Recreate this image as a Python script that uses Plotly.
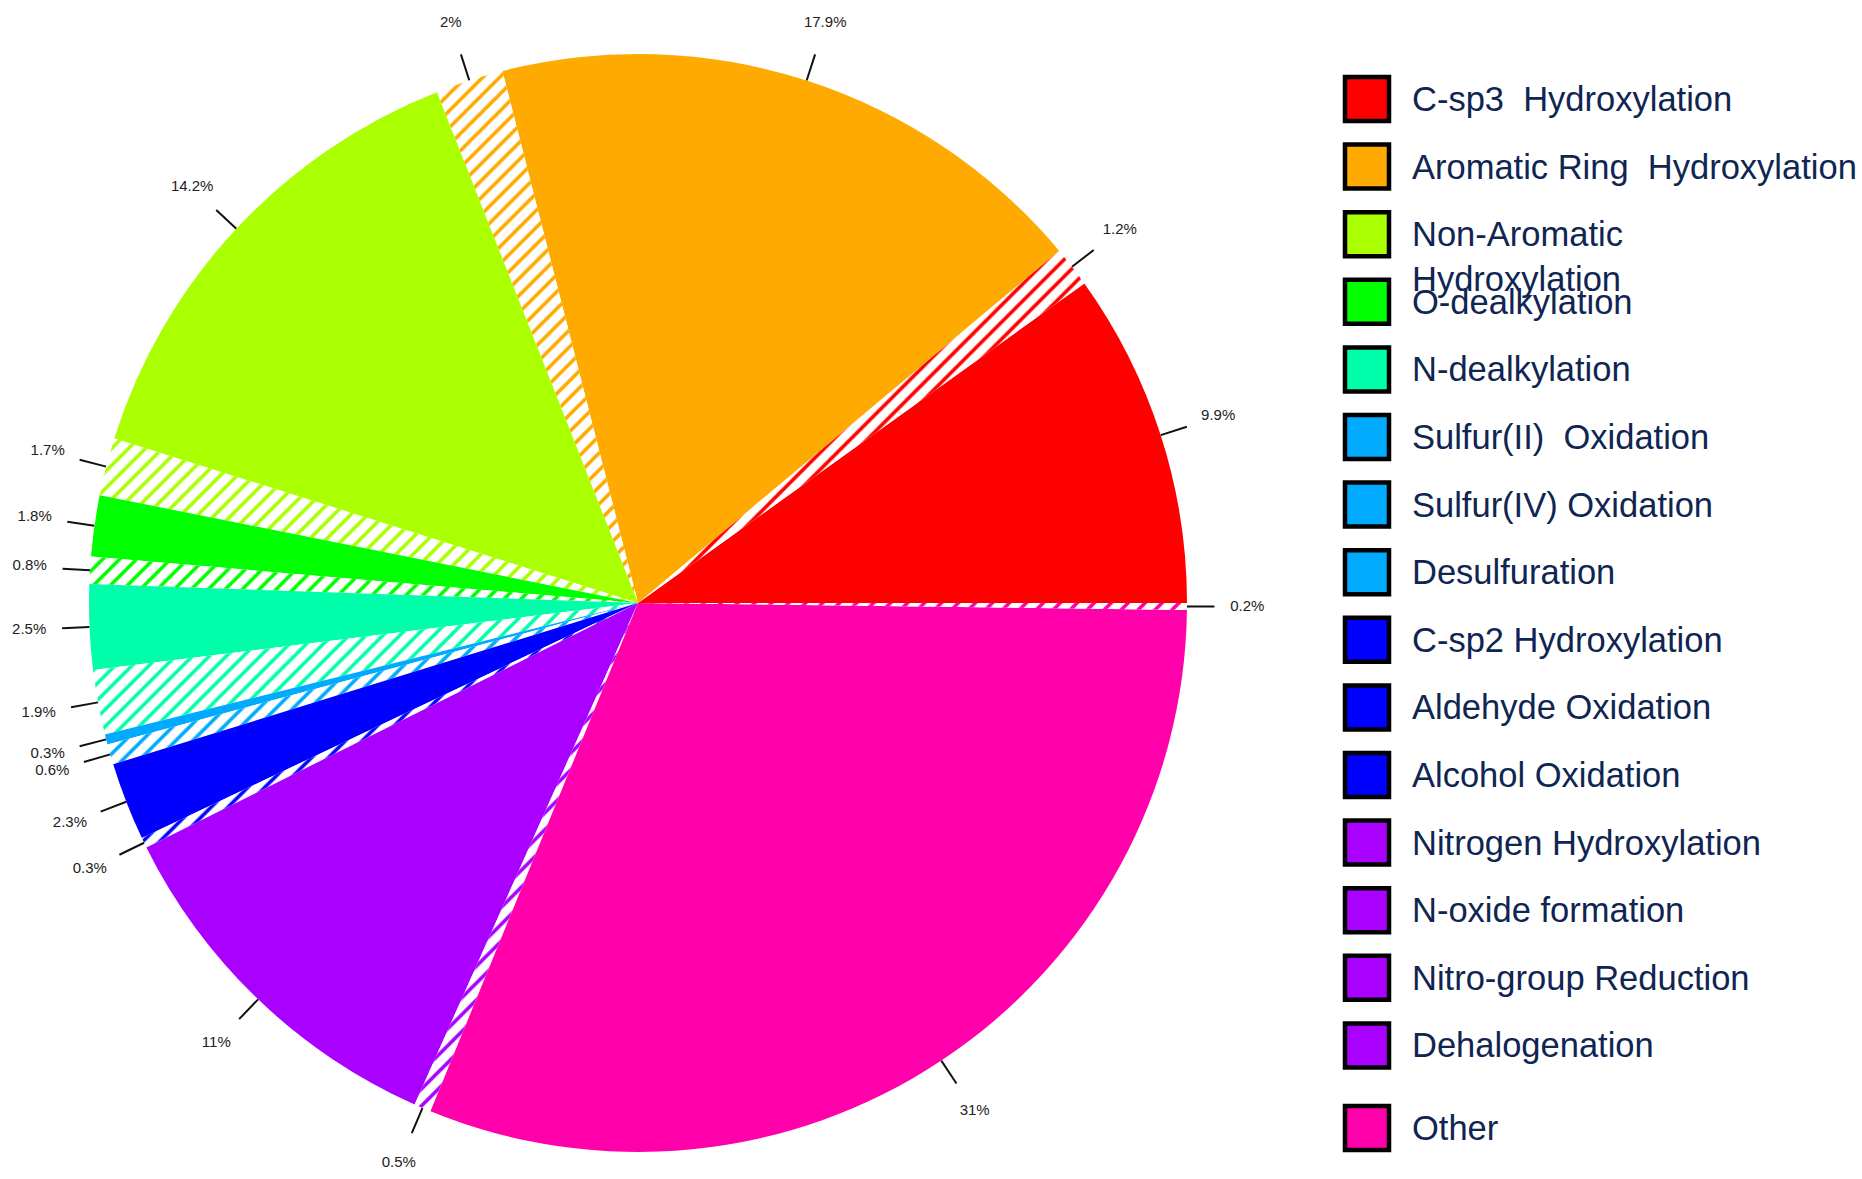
import math
import plotly.graph_objects as go

# ---------------- data ----------------
# pie slices, counter-clockwise starting at 3 o'clock
slice_names = [
    "C-sp3 Hydroxylation", "C-sp3 Hydroxylation (hatched)",
    "Aromatic Ring Hydroxylation", "Aromatic Ring Hydroxylation (hatched)",
    "Non-Aromatic Hydroxylation", "Non-Aromatic Hydroxylation (hatched)",
    "O-dealkylation", "O-dealkylation (hatched)",
    "N-dealkylation", "N-dealkylation (hatched)",
    "Sulfur Oxidation / Desulfuration", "Sulfur Oxidation / Desulfuration (hatched)",
    "C-sp2 / Aldehyde / Alcohol Oxidation", "C-sp2 / Aldehyde / Alcohol Oxidation (hatched)",
    "Nitrogen Hydroxylation / N-oxide / Nitro / Dehalogenation",
    "Nitrogen Hydroxylation / N-oxide / Nitro / Dehalogenation (hatched)",
    "Other", "Other (hatched)",
]
slice_values = [9.9, 1.2, 17.9, 2, 14.2, 1.7, 1.8, 0.8, 2.5, 1.9,
                0.3, 0.6, 2.3, 0.3, 11, 0.5, 31, 0.2]
slice_text = ["9.9%", "1.2%", "17.9%", "2%", "14.2%", "1.7%", "1.8%", "0.8%",
              "2.5%", "1.9%", "0.3%", "0.6%", "2.3%", "0.3%", "11%", "0.5%",
              "31%", "0.2%"]
slice_hatched = [False, True] * 9

group_colors = ["#ff0000", "#ffaa00", "#aaff00", "#00ff00", "#00ffaa",
                "#00aaff", "#0000ff", "#aa00ff", "#ff00aa"]
slice_colors = [c for c in group_colors for _ in range(2)]

legend_labels = [
    "C-sp3\u00a0 Hydroxylation",
    "Aromatic Ring\u00a0 Hydroxylation",
    "Non-Aromatic<br>Hydroxylation",
    "O-dealkylation",
    "N-dealkylation",
    "Sulfur(II)\u00a0 Oxidation",
    "Sulfur(IV) Oxidation",
    "Desulfuration",
    "C-sp2 Hydroxylation",
    "Aldehyde Oxidation",
    "Alcohol Oxidation",
    "Nitrogen Hydroxylation",
    "N-oxide formation",
    "Nitro-group Reduction",
    "Dehalogenation",
    "Other",
]
legend_colors = ["#ff0000", "#ffaa00", "#aaff00", "#00ff00", "#00ffaa",
                 "#00aaff", "#00aaff", "#00aaff",
                 "#0000ff", "#0000ff", "#0000ff",
                 "#aa00ff", "#aa00ff", "#aa00ff", "#aa00ff",
                 "#ff00aa"]

# ---------------- layout constants (pixels) ----------------
W, H = 1862, 1179
CX, CY, R = 638, 603, 549          # pie centre and radius in page pixels
TICK_IN, TICK_OUT, LABEL_R = 1.0, 1.05, 1.11
LEG_SQ_X, LEG_TXT_X = 1367, 1410   # legend square centre / text start (px)
LEG_TOP, LEG_STEP, LEG_LAST_GAP = 99, 67.6, 15
LEG_FONT = 34.5
TEXT_NAVY = "#0f2552"

def px_to_x(px):
    return (px - CX) / R

def py_to_y(py):
    return (CY - py) / R

total = sum(slice_values)
# plotly draws the first counter-clockwise slice so that it ENDS at `rotation`;
# shift so that the first slice starts at 3 o'clock
pie_rotation = 90 - slice_values[0] / total * 360.0

fig = go.Figure()

# ---------------- pie ----------------
fig.add_trace(go.Pie(
    labels=slice_names,
    values=slice_values,
    sort=False,
    direction="counterclockwise",
    rotation=pie_rotation,
    textposition="none",
    textinfo="none",
    hoverinfo="skip",
    showlegend=False,
    marker=dict(
        colors=slice_colors,
        line=dict(width=0),
        pattern=dict(
            shape=["/" if h else "" for h in slice_hatched],
            fgcolor=slice_colors,
            bgcolor=["#ffffff" if h else c for h, c in zip(slice_hatched, slice_colors)],
            size=12,
            solidity=0.3,
            fillmode="replace",
        ),
    ),
    domain=dict(x=[(CX - R) / W, (CX + R) / W],
                y=[(H - CY - R) / H, (H - CY + R) / H]),
))

# ---------------- tick marks and percentage labels ----------------
mids = []
cum = 0.0
for v in slice_values:
    mids.append(math.radians((cum + v / 2) / total * 360.0))
    cum += v

tx, ty = [], []
for a in mids:
    tx += [TICK_IN * math.cos(a), TICK_OUT * math.cos(a), None]
    ty += [TICK_IN * math.sin(a), TICK_OUT * math.sin(a), None]
fig.add_trace(go.Scatter(x=tx, y=ty, mode="lines",
                         line=dict(color="#111111", width=2),
                         hoverinfo="skip", showlegend=False))

fig.add_trace(go.Scatter(
    x=[LABEL_R * math.cos(a) for a in mids],
    y=[LABEL_R * math.sin(a) for a in mids],
    mode="text", text=slice_text, textposition="middle center",
    textfont=dict(family="Liberation Sans, Arial, sans-serif", size=15, color="#222222"),
    hoverinfo="skip", showlegend=False, cliponaxis=False))

# ---------------- custom legend ----------------
leg_py = []
for i in range(len(legend_labels)):
    y = LEG_TOP + i * LEG_STEP
    if i == len(legend_labels) - 1:
        y += LEG_LAST_GAP
    leg_py.append(y)

fig.add_trace(go.Scatter(
    x=[px_to_x(LEG_SQ_X)] * len(legend_labels),
    y=[py_to_y(p) for p in leg_py],
    mode="markers",
    marker=dict(symbol="square", size=44, color=legend_colors,
                line=dict(color="#000000", width=4.5)),
    hoverinfo="skip", showlegend=False, cliponaxis=False))

line_h = LEG_FONT * 1.3
for lab, p in zip(legend_labels, leg_py):
    n_lines = lab.count("<br>") + 1
    fig.add_annotation(
        x=px_to_x(LEG_TXT_X), y=py_to_y(p), xref="x", yref="y",
        text=lab, showarrow=False, xanchor="left", yanchor="middle",
        align="left", yshift=-(n_lines - 1) * line_h / 2,
        font=dict(family="Liberation Sans, Arial, sans-serif", size=LEG_FONT, color=TEXT_NAVY),
    )

fig.update_layout(
    width=W, height=H,
    margin=dict(l=0, r=0, t=0, b=0),
    paper_bgcolor="white", plot_bgcolor="rgba(0,0,0,0)",
    showlegend=False,
    xaxis=dict(domain=[0, 1], range=[px_to_x(0), px_to_x(W)], visible=False, fixedrange=True),
    yaxis=dict(domain=[0, 1], range=[py_to_y(H), py_to_y(0)], visible=False, fixedrange=True),
)

fig.write_html("out.html",
               config={"displayModeBar": False},
               post_script="document.body.style.margin='0';document.body.style.overflow='hidden';")
